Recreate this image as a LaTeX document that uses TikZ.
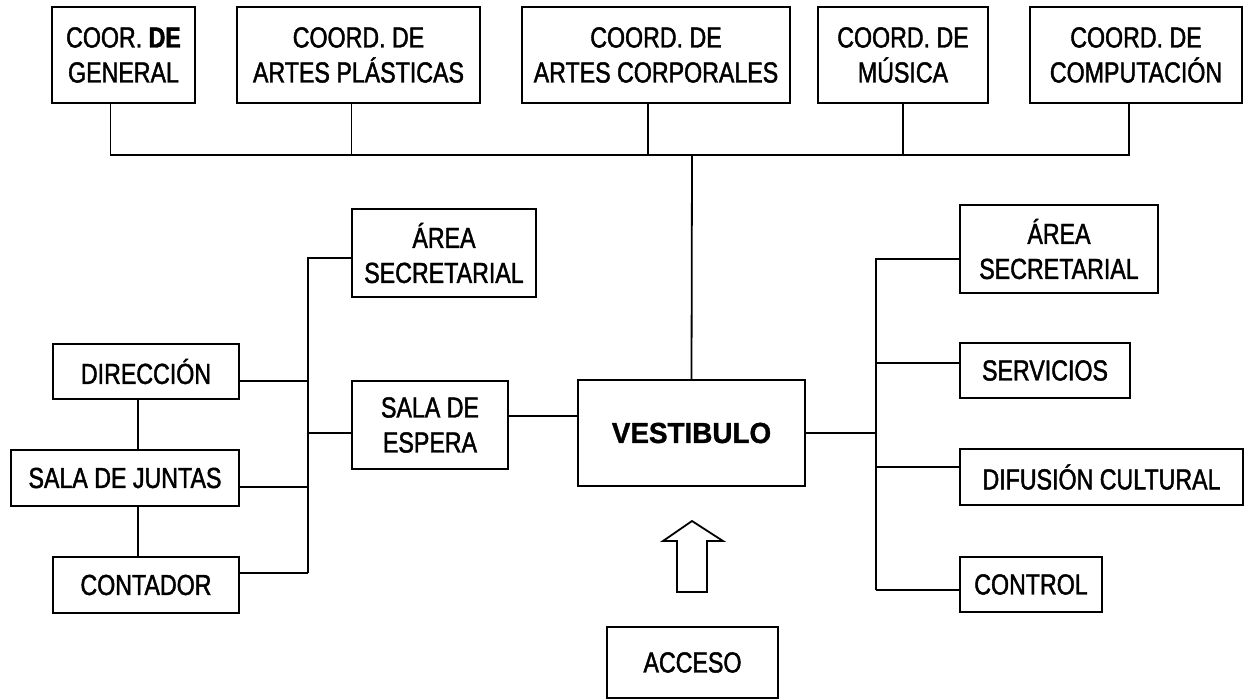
\documentclass[tikz,border=0pt]{standalone}
\usepackage{fontspec}
\setmainfont{Liberation Sans}[FakeStretch=0.8,FakeBold=1.5]
\newfontfamily\vestfont{Liberation Sans Bold}[FakeStretch=0.96,FakeBold=1.2]
\usetikzlibrary{calc}

\begin{document}
\begin{tikzpicture}[x=1pt,y=-1pt,line width=1.8pt,
  caja/.style={rectangle,draw=black,line width=1.8pt,inner sep=0pt,align=center,
               font=\fontsize{29}{35}\selectfont},
  coord/.style={caja,minimum height=96},
  area/.style={caja,minimum height=88},
  sala/.style={caja,minimum height=56},
  main/.style={caja,font=\fontsize{29}{35}\vestfont}]

  \fill[white] (0,0) rectangle (1248,699) ;

  % coordinaciones
  \node[coord,minimum width=143] at ( 123.5, 55) (cgen)  {COOR. \textbf{DE}\\GENERAL} ;
  \node[coord,minimum width=243] at ( 358.5, 55) (cart)  {COORD. DE\\ARTES PLÁSTICAS} ;
  \node[coord,minimum width=268] at ( 656,   55) (ccorp) {COORD. DE\\ARTES CORPORALES} ;
  \node[coord,minimum width=170] at ( 903,   55) (cmus)  {COORD. DE\\MÚSICA} ;
  \node[coord,minimum width=212] at (1136,   55) (ccomp) {COORD. DE\\COMPUTACIÓN} ;

  % centro
  \node[main,minimum width=227,minimum height=106] at (691.5,433) (vest) {VESTIBULO} ;
  \node[caja,minimum width=156,minimum height=88]  at (430,  425) (espera) {SALA DE\\ESPERA} ;
  \node[caja,minimum width=171,minimum height=71]  at (692.5,662.5) (acceso) {ACCESO} ;

  % lado izquierdo
  \node[area,minimum width=184] at (444,253)   (areaL)  {ÁREA\\SECRETARIAL} ;
  \node[sala,minimum width=186,minimum height=55] at (146,371.5) (direc) {DIRECCIÓN} ;
  \node[sala,minimum width=228] at (125,478)   (juntas)   {SALA DE JUNTAS} ;
  \node[sala,minimum width=186] at (146,585)   (contador) {CONTADOR} ;

  % lado derecho
  \node[area,minimum width=198] at (1059,249)   (areaR)    {ÁREA\\SECRETARIAL} ;
  \node[sala,minimum width=170,minimum height=55] at (1045,370.5) (serv) {SERVICIOS} ;
  \node[sala,minimum width=283] at (1101.5,477) (difusion) {DIFUSIÓN CULTURAL} ;
  \node[sala,minimum width=142,minimum height=55] at (1031,584.5) (control) {CONTROL} ;

  \coordinate (tbus) at (692,155) ;
  \coordinate (lbus) at (308,258) ;
  \coordinate (rbus) at (876,259) ;
  \coordinate (flecha) at (692,521) ;

  % bus superior
  \draw ([xshift=-13]cgen.south) -- ([xshift=-13]cgen.south |- tbus) -- ([xshift=-7]ccomp.south |- tbus) -- ([xshift=-7]ccomp.south) ;
  \draw ([xshift=-7]cart.south) -- ([xshift=-7]cart.south |- tbus) ;
  \draw ([xshift=-8]ccorp.south) -- ([xshift=-8]ccorp.south |- tbus) ;
  \draw (cmus.south)  -- (cmus.south |- tbus) ;
  \draw (tbus) -- (vest.north) ;

  % bus izquierdo
  \draw (areaL.west |- lbus) -- (lbus) -- (lbus |- 0,573) ;
  \draw ([yshift=-9.5]direc.east) -- ([yshift=-9.5]direc.east -| lbus) ;
  \draw ([yshift=-9]juntas.east)  -- ([yshift=-9]juntas.east -| lbus) ;
  \draw ([yshift=12]contador.east) -- ([yshift=12]contador.east -| lbus) ;
  \draw ([yshift=-8]espera.west)  -- ([yshift=-8]espera.west -| lbus) ;
  \draw ([yshift=9]espera.east)   -- ([yshift=9]espera.east -| vest.west) ;
  \draw ([xshift=-8]direc.south)  -- ([xshift=-8]direc.south |- juntas.north) ;
  \draw ([xshift=-8]contador.north) -- ([xshift=-8]contador.north |- juntas.south) ;

  % bus derecho
  \draw (areaR.west |- rbus) -- (rbus) -- (rbus |- 0,590) ;
  \draw ([yshift=7.5]serv.west) -- ([yshift=7.5]serv.west -| rbus) ;
  \draw ([yshift=10]difusion.west) -- ([yshift=10]difusion.west -| rbus) ;
  \draw ([yshift=-5.5]control.west) -- ([yshift=-5.5]control.west -| rbus) ;
  \draw (vest.east) -- (vest.east -| rbus) ;

  % flecha de acceso
  \draw[line width=1.8pt,line join=miter] (flecha) -- ++(31,20) -- ++(-16,0) -- ++(0,51) -- ++(-30,0)
        -- ++(0,-51) -- ++(-14,0) -- cycle ;

\end{tikzpicture}
\end{document}
